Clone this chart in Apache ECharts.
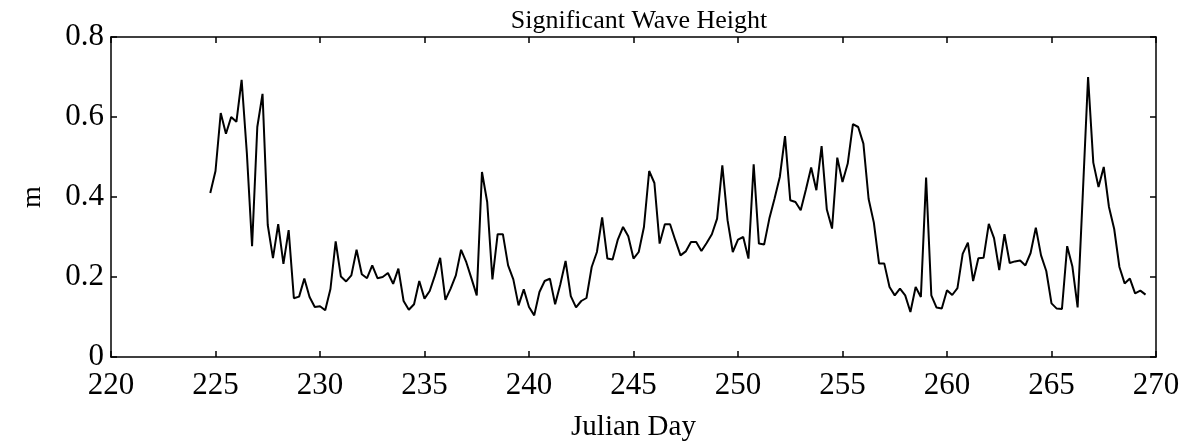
<!DOCTYPE html>
<html>
<head>
<meta charset="utf-8">
<title>Significant Wave Height</title>
<script src="https://cdn.jsdelivr.net/npm/echarts@6/dist/echarts.min.js"></script>
<style>
  html, body { margin: 0; padding: 0; background: #fff; }
  #chart { width: 1187px; height: 443px; }
</style>
</head>
<body>
<div id="chart"></div>
<script>
// Six-hourly significant wave height record (m), first sample at day 224.75
const START_DAY = 224.75;
const STEP_DAYS = 0.25;

const waveHeight = [
  0.41, 0.465, 0.61, 0.558, 0.60, 0.588, 0.693, 0.51, 0.277, 0.575,
  0.658, 0.33, 0.247, 0.332, 0.233, 0.317, 0.147, 0.151, 0.196, 0.15,
  0.125, 0.127, 0.117, 0.17, 0.289, 0.201, 0.189, 0.204, 0.268, 0.207,
  0.197, 0.229, 0.197, 0.20, 0.21, 0.183, 0.221, 0.14, 0.118, 0.132,
  0.19, 0.146, 0.165, 0.204, 0.248, 0.143, 0.171, 0.204, 0.268, 0.237,
  0.196, 0.154, 0.4625, 0.3875, 0.194, 0.307, 0.307, 0.229, 0.194, 0.129,
  0.169, 0.125, 0.104, 0.1625, 0.19, 0.196, 0.132, 0.182, 0.24, 0.152,
  0.124, 0.14, 0.1475, 0.225, 0.2625, 0.349, 0.246, 0.2435, 0.2935, 0.325,
  0.302, 0.246, 0.2625, 0.325, 0.465, 0.435, 0.2835, 0.332, 0.332, 0.292,
  0.254, 0.264, 0.2875, 0.2875, 0.265, 0.285, 0.307, 0.346, 0.479, 0.342,
  0.2625, 0.2935, 0.30, 0.246, 0.482, 0.2835, 0.281, 0.346, 0.396, 0.45,
  0.552, 0.392, 0.3875, 0.367, 0.4185, 0.4735, 0.417, 0.527, 0.3685, 0.321,
  0.4985, 0.4375, 0.4835, 0.582, 0.575, 0.5335, 0.395, 0.336, 0.2335, 0.2335,
  0.175, 0.154, 0.171, 0.154, 0.1125, 0.175, 0.15, 0.4485, 0.154, 0.1235,
  0.121, 0.167, 0.155, 0.172, 0.258, 0.286, 0.19, 0.247, 0.248, 0.333,
  0.297, 0.217, 0.307, 0.235, 0.239, 0.241, 0.229, 0.26, 0.3235, 0.254,
  0.215, 0.134, 0.121, 0.12, 0.277, 0.226, 0.124, 0.41, 0.70, 0.486,
  0.425, 0.475, 0.375, 0.32, 0.225, 0.184, 0.196, 0.159, 0.166, 0.156
];

// Axis ranges and tick spacing
const xRange = [220, 270];
const xTickStep = 5;
const yRange = [0, 0.8];
const yTickStep = 0.2;

const titleText = 'Significant Wave Height';
const xAxisTitle = 'Julian Day';
const yAxisTitle = 'm';

const seriesData = waveHeight.map((h, i) => [START_DAY + i * STEP_DAYS, h]);

const FONT = '"Liberation Serif", "Times New Roman", serif';
const INK = '#000';

const chart = echarts.init(document.getElementById('chart'), null, { renderer: 'canvas' });

// Box frame: every side drawn as an axis line with inward ticks
const frameLine = () => ({ show: true, onZero: false, lineStyle: { color: INK, width: 1.5 } });
const inTicks = () => ({ show: true, inside: true, length: 6, lineStyle: { color: INK, width: 1.5 } });

chart.setOption({
  animation: false,
  backgroundColor: '#fff',
  title: {
    text: titleText,
    left: 634,
    top: 3,
    textAlign: 'center',
    textStyle: { fontFamily: FONT, fontSize: 26, fontWeight: 'normal', color: INK }
  },
  grid: {
    left: 111, top: 37, width: 1045, height: 320,
    containLabel: false, outerBoundsMode: 'none'
  },
  xAxis: [
    {
      type: 'value', position: 'bottom',
      min: xRange[0], max: xRange[1], interval: xTickStep,
      name: xAxisTitle, nameLocation: 'middle', nameGap: 56,
      nameTextStyle: { fontFamily: FONT, fontSize: 29, color: INK },
      axisLine: frameLine(), axisTick: inTicks(), splitLine: { show: false },
      axisLabel: { fontFamily: FONT, fontSize: 31, color: INK, margin: 13 }
    },
    {
      type: 'value', position: 'top',
      min: xRange[0], max: xRange[1], interval: xTickStep,
      axisLine: frameLine(), axisTick: inTicks(), splitLine: { show: false },
      axisLabel: { show: false }
    }
  ],
  yAxis: [
    {
      type: 'value', position: 'left',
      min: yRange[0], max: yRange[1], interval: yTickStep,
      name: yAxisTitle, nameLocation: 'middle', nameGap: 64, nameRotate: 90,
      nameTextStyle: { fontFamily: FONT, fontSize: 28, color: INK },
      axisLine: frameLine(), axisTick: inTicks(), splitLine: { show: false },
      axisLabel: {
        fontFamily: FONT, fontSize: 31, color: INK, margin: 7,
        formatter: v => (v === 0 ? '0' : v.toFixed(1))
      }
    },
    {
      type: 'value', position: 'right',
      min: yRange[0], max: yRange[1], interval: yTickStep,
      axisLine: frameLine(), axisTick: inTicks(), splitLine: { show: false },
      axisLabel: { show: false }
    }
  ],
  series: [
    {
      type: 'line',
      xAxisIndex: 0, yAxisIndex: 0,
      data: seriesData,
      showSymbol: false,
      lineStyle: { color: INK, width: 2 },
      z: 3
    }
  ]
});
</script>
</body>
</html>
